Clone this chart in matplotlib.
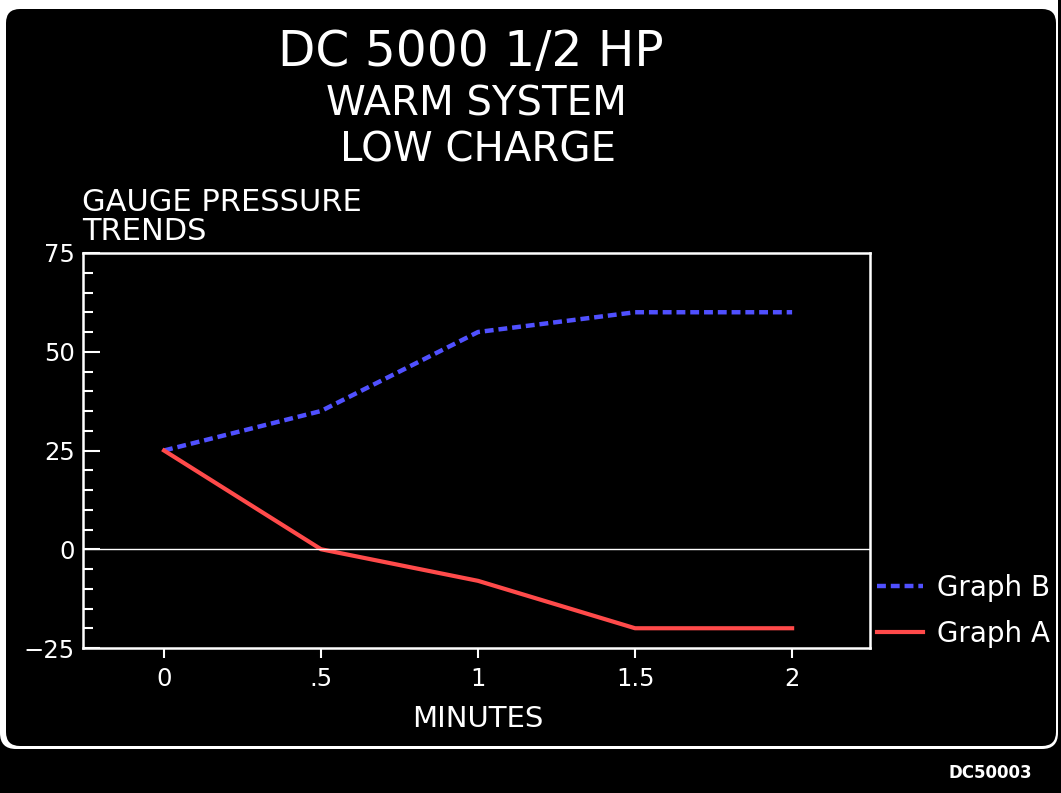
import matplotlib.pyplot as plt
from matplotlib.patches import FancyBboxPatch

# data
minutes = [0, 0.5, 1, 1.5, 2]
graph_b = [25, 35, 55, 60, 60]
graph_a = [25, 0, -8, -20, -20]
x_ticks = [0, 0.5, 1, 1.5, 2]
x_labels = ["0", ".5", "1", "1.5", "2"]
y_ticks = [-25, 0, 25, 50, 75]
y_labels = ["\u221225", "0", "25", "50", "75"]

W, H = 1061, 793
fig = plt.figure(figsize=(W / 100, H / 100), dpi=100, facecolor="black")

# background frame, drawn in pixel coordinates
bg = fig.add_axes([0, 0, 1, 1], zorder=0)
bg.set_xlim(0, W)
bg.set_ylim(H, 0)
bg.axis("off")
bg.add_patch(FancyBboxPatch((0, -60), 1058, 809, boxstyle="round,pad=0,rounding_size=16",
                            fc="white", ec="none"))
bg.add_patch(FancyBboxPatch((6, 9), 1050, 737, boxstyle="round,pad=0,rounding_size=14",
                            fc="black", ec="none"))

bg.text(471, 66, "DC 5000 1/2 HP", color="white", fontsize=35, ha="center", va="baseline")
bg.text(476, 115, "WARM SYSTEM", color="white", fontsize=29, ha="center", va="baseline")
bg.text(478, 162, "LOW CHARGE", color="white", fontsize=29, ha="center", va="baseline")
bg.text(82, 211, "GAUGE PRESSURE", color="white", fontsize=22, ha="left", va="baseline")
bg.text(82, 240, "TRENDS", color="white", fontsize=22, ha="left", va="baseline")
bg.text(478, 727, "MINUTES", color="white", fontsize=21, ha="center", va="baseline")
bg.text(1032, 778, "DC50003", color="white", fontsize=12, fontweight="bold",
        ha="right", va="baseline")

# main plot
ax = fig.add_axes([83 / W, 145 / H, 787 / W, 395 / H], zorder=1)
ax.set_facecolor("black")
ax.plot(minutes, graph_b, color="#5050ff", lw=3.2, dashes=(2, 1.1),
        dash_capstyle="butt", label="Graph B")
ax.plot(minutes, graph_a, color="#ff4a4a", lw=3, label="Graph A")
ax.axhline(0, color="white", lw=1)

ax.set_xlim(-0.258, 2.248)
ax.set_ylim(-25, 75)
ax.set_xticks(x_ticks)
ax.set_xticklabels(x_labels)
ax.set_yticks(y_ticks)
ax.set_yticklabels(y_labels)
ax.set_yticks(range(-25, 76, 5), minor=True)

for s in ax.spines.values():
    s.set_color("white")
    s.set_linewidth(1.8)

ax.tick_params(axis="x", direction="out", length=7, width=1.5, color="white",
               labelcolor="white", labelsize=17.5, pad=7)
ax.tick_params(axis="y", which="major", direction="in", length=12, width=1.5,
               color="white", labelcolor="white", labelsize=17.5, pad=6)
ax.tick_params(axis="y", which="minor", direction="in", length=7, width=1.5, color="white")
ax.tick_params(axis="x", which="minor", length=0)

leg = ax.legend(loc="upper left", bbox_to_anchor=(877 / W, 1 - 574 / H),
                bbox_transform=fig.transFigure, frameon=False, fontsize=20,
                handlelength=1.65, handletextpad=0.5, labelspacing=0.65,
                borderaxespad=0, borderpad=0)
for t in leg.get_texts():
    t.set_color("white")

fig.savefig("out.png", dpi=100, facecolor=fig.get_facecolor())
